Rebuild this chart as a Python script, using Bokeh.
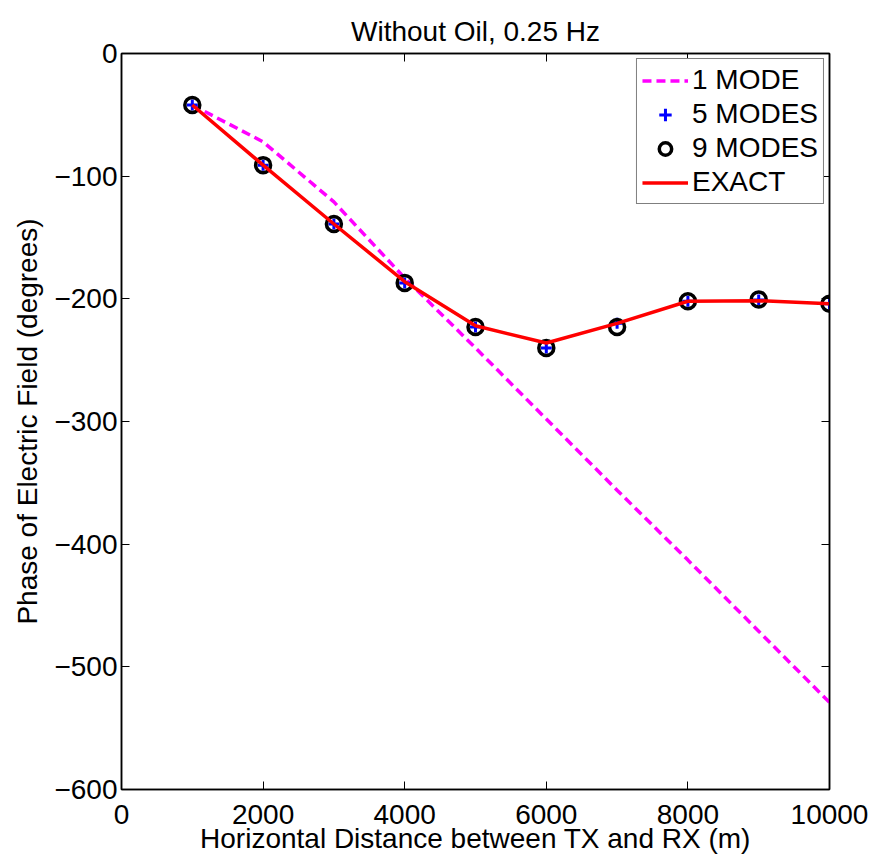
from bokeh.plotting import figure
from bokeh.models import LinearAxis, FixedTicker, Legend, LegendItem, Label, Range1d
from bokeh.embed import file_html
from bokeh.resources import INLINE

distance = [1000, 2000, 3000, 4000, 5000, 6000, 7000, 8000, 9000, 10000]
one_mode = [-42, -72, -121, -183, -240, -298, -356, -413, -471, -529]
five_modes = [-42, -91, -139, -187, -223, -240, -220, -202, -201, -204]
nine_modes = [-42, -91, -139, -187, -223, -240, -223, -202, -200.5, -204]
exact = [-42, -91, -139, -186, -222, -236, -220, -202, -201.5, -204]

x_ticks = [0, 2000, 4000, 6000, 8000, 10000]
y_ticks = [0, -100, -200, -300, -400, -500, -600]
y_tick_labels = ["0", "\u2212100", "\u2212200", "\u2212300", "\u2212400", "\u2212500", "\u2212600"]
title_text = "Without Oil, 0.25 Hz"

FONT = "Liberation Sans"
FS = "28px"

p = figure(width=884, height=856, x_range=Range1d(0, 10000), y_range=Range1d(-600, 0),
           output_backend="svg", toolbar_location=None,
           min_border_left=121, min_border_right=55, min_border_top=53, min_border_bottom=67,
           title=title_text)
p.title.align = "center"
p.title.vertical_align = "top"
p.title.text_font = FONT
p.title.text_font_size = FS
p.title.text_font_style = "normal"
p.title.text_color = "black"
p.title.standoff = 10
p.xgrid.visible = False
p.ygrid.visible = False
p.outline_line_color = "black"
p.outline_line_width = 1.5

for ax in [p.xaxis[0], p.yaxis[0]]:
    ax.major_tick_in = 8
    ax.major_tick_out = 0
    ax.minor_tick_line_color = None
    ax.major_label_text_font = FONT
    ax.major_label_text_font_size = FS
    ax.major_label_text_color = "black"
    ax.axis_label_text_font = FONT
    ax.axis_label_text_font_size = FS
    ax.axis_label_text_font_style = "normal"
    ax.axis_label_text_color = "black"
    ax.axis_line_color = "black"
    ax.axis_line_width = 1.5
    ax.major_tick_line_color = "black"

p.xaxis[0].ticker = FixedTicker(ticks=x_ticks)
p.yaxis[0].ticker = FixedTicker(ticks=y_ticks)
p.yaxis[0].major_label_overrides = {t: l for t, l in zip(y_ticks, y_tick_labels)}
p.xaxis[0].axis_label = "Horizontal Distance between TX and RX (m)"
p.yaxis[0].axis_label = "Phase of Electric Field (degrees)"
p.xaxis[0].major_label_standoff = 15
p.xaxis[0].axis_label_standoff = -4
p.yaxis[0].major_label_standoff = 4
p.yaxis[0].axis_label_standoff = 8

top = LinearAxis(ticker=FixedTicker(ticks=x_ticks), major_tick_in=8, major_tick_out=0,
                 minor_tick_line_color=None,
                 major_label_overrides={t: "" for t in x_ticks},
                 major_label_standoff=0,
                 axis_line_color="black", axis_line_width=1.5)
right = LinearAxis(ticker=FixedTicker(ticks=y_ticks), major_tick_in=8, major_tick_out=0,
                   minor_tick_line_color=None,
                   major_label_overrides={t: "" for t in y_ticks},
                   major_label_standoff=0,
                   axis_line_color="black", axis_line_width=1.5)
p.add_layout(top, "above")
p.add_layout(right, "right")

r1 = p.line(distance, one_mode, line_color="#ff00ff", line_width=3.5, line_dash="9 5")
r2 = p.scatter(distance, five_modes, marker="cross", size=11, line_color="blue", line_width=3)
r3 = p.scatter(distance, nine_modes, marker="circle", size=15, line_color="black",
               fill_color=None, line_width=3.5)
r4 = p.line(distance, exact, line_color="red", line_width=3.5)

legend = Legend(items=[LegendItem(label="1 MODE", renderers=[r1]),
                       LegendItem(label="5 MODES", renderers=[r2]),
                       LegendItem(label="9 MODES", renderers=[r3]),
                       LegendItem(label="EXACT", renderers=[r4])],
                location="top_right")
legend.label_text_font = FONT
legend.label_text_font_size = FS
legend.label_text_color = "black"
legend.glyph_width = 46
legend.glyph_height = 31
legend.label_height = 31
legend.label_standoff = 4
legend.spacing = 2
legend.padding = 5
legend.margin = 5
legend.border_line_color = "black"
legend.border_line_width = 1
legend.background_fill_alpha = 1
p.add_layout(legend)

stray = Label(x=-1680, y=-609, text="0", text_font=FONT, text_font_size=FS,
              text_color="black", text_align="center", text_baseline="top")
p.add_layout(stray)

open("out.html", "w").write(file_html(p, INLINE))
